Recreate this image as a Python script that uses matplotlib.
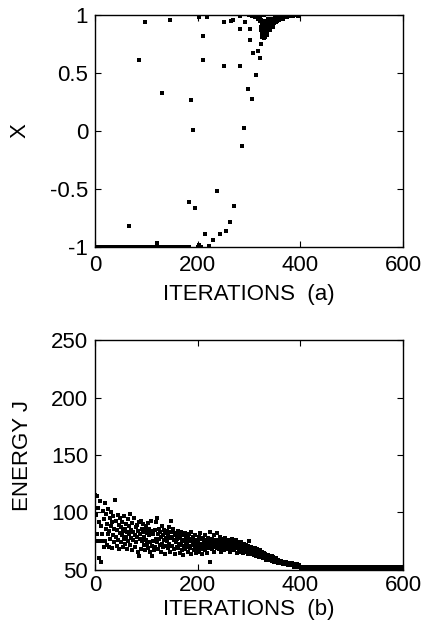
import numpy as np
from matplotlib import pyplot as plt

# ---- data ----
iter_ticks = [0, 200, 400, 600]
iter_ticklabels = ["0", "200", "400", "600"]
x_ticks = [-1, -0.5, 0, 0.5, 1]
x_ticklabels = ["-1", "-0.5", "0", "0.5", "1"]
energy_ticks = [50, 100, 150, 200, 250]
energy_ticklabels = ["50", "100", "150", "200", "250"]

# (a) iterations where X sits on the lower bound -1
x_floor_iters = [0, 3, 6, 9, 12, 15, 18, 21, 24, 27, 30, 33, 36, 39, 42, 45,
                 48, 51, 54, 57, 60, 63, 70, 73, 76, 79, 82, 90, 93, 101, 104,
                 107, 110, 113, 116, 124, 127, 134, 137, 140, 143, 150, 153,
                 156, 159, 162, 165, 168, 171, 174, 177, 180, 183, 201, 206]
x_floor_val = -1.0

# (a) scattered samples of X
x_iters = [67, 86, 97, 120, 131, 147, 184, 188, 191, 195, 202, 203, 211, 211,
           214, 219, 223, 230, 237, 244, 252, 252, 256, 263, 265, 269, 271,
           282, 282, 282, 287, 291, 292, 298, 302, 302, 306, 308, 309, 313,
           317, 321, 324, 396]
x_vals = [-0.82, 0.613, 0.944, -0.963, 0.33, 0.96, -0.615, 0.268, 0.013,
          -0.664, -0.98, 0.98, 0.816, 0.613, -0.885, 0.98, -0.99, -0.943,
          -0.52, -0.885, 0.944, 0.564, -0.865, -0.788, 0.95, 0.96, -0.647,
          0.99, 0.88, 0.564, -0.128, 0.03, 0.944, 0.36, 0.88, 0.785, 0.28,
          0.673, 0.99, 0.486, 0.693, 0.63, 0.753, 0.99]

# (a) dense cluster converging on X = 1
cluster_iters = [300, 303, 305, 308, 310, 312, 313, 315, 316, 318, 318, 320,
                 322, 322, 323, 324, 324, 325, 325, 326, 326, 327, 327, 328,
                 328, 329, 329, 330, 330, 330, 331, 331, 332, 332, 333, 333,
                 334, 334, 335, 335, 336, 336, 337, 337, 338, 339, 340, 340,
                 341, 342, 343, 344, 345, 346, 347, 348, 349, 350, 350, 352,
                 354, 356, 358, 360, 362, 364, 366, 370, 370, 374, 378, 380,
                 386, 390]
cluster_vals = [1.0, 1.0, 0.99, 0.995, 1.0, 0.98, 1.0, 0.995, 0.99, 1.0, 0.97,
                0.99, 0.98, 0.95, 0.9, 0.96, 0.87, 0.93, 0.83, 0.86, 0.81,
                0.9, 0.95, 0.84, 0.92, 0.8, 0.89, 0.82, 1.0, 0.86, 0.85, 0.81,
                0.83, 0.92, 0.87, 0.83, 0.9, 0.95, 0.86, 0.83, 0.88, 0.94,
                0.91, 0.97, 0.88, 0.89, 0.93, 0.96, 0.87, 0.9, 0.91, 0.95,
                0.97, 0.9, 0.92, 0.955, 0.93, 0.98, 1.0, 0.94, 0.95, 0.99,
                0.96, 1.0, 0.995, 0.97, 0.97, 0.98, 1.0, 0.985, 0.99, 1.0,
                0.995, 1.0]

# (b) energy J, one value per iteration
energy = [
    115, 75, 98, 114, 81, 75, 104, 60, 92, 75, 110, 57, 88, 75, 81, 101, 75, 94, 70, 108,
    75, 86, 99, 72, 90, 81, 103, 70, 84, 95, 77, 100, 88, 69, 92, 80, 97, 74, 86, 111,
    79, 93, 71, 85, 98, 76, 89, 68, 82, 95, 74, 87, 80, 92, 70, 84, 97, 77, 86, 73,
    90, 79, 83, 68, 94, 75, 88, 81, 99, 72, 85, 78, 91, 67, 83, 76, 95, 80, 70, 87,
    74, 89, 79, 66, 84, 92, 62, 81, 77, 93, 68, 86, 75, 83, 90, 72, 79, 85, 67, 88,
    76, 82, 73, 91, 69, 80, 86, 74, 66, 84, 93, 71, 62, 75, 81, 67, 85, 70, 77, 92,
    95, 74, 81, 68, 86, 77, 72, 83, 66, 79, 88, 73, 80, 70, 85, 76, 64, 82, 78, 71,
    84, 75, 69, 81, 87, 73, 78, 66, 83, 93, 71, 79, 86, 68, 76, 82, 64, 74, 80, 70,
    77, 84, 69, 73, 81, 65, 78, 72, 83, 67, 75, 80, 63, 76, 71, 82, 68, 74, 79, 70,
    73, 78, 66, 81, 71, 75, 69, 83, 64, 77, 72, 79, 67, 74, 70, 80, 65, 76, 73, 68,
    75, 71, 79, 66, 73, 82, 69, 77, 64, 72, 78, 68, 74, 70, 80, 67, 73, 76, 65, 71,
    78, 69, 74, 72, 83, 57, 70, 77, 68, 75, 73, 80, 66, 72, 76, 70, 74, 69, 82, 71,
    73, 68, 76, 71, 79, 66, 74, 70, 77, 72, 69, 75, 67, 73, 78, 71, 70, 74, 68, 72,
    76, 69, 73, 71, 66, 74, 70, 77, 68, 72, 75, 67, 71, 73, 69, 76, 65, 72, 70, 74,
    68, 71, 73, 66, 70, 74, 67, 72, 69, 65, 71, 73, 68, 70, 66, 72, 69, 67, 71, 64,
    75, 68, 66, 70, 64, 69, 67, 65, 68, 63, 66, 69, 64, 67, 62, 65, 68, 63, 66, 61,
    65, 63, 67, 61, 64, 62, 66, 60, 63, 65, 61, 62, 64, 59, 63, 61, 62, 60, 63, 59,
    61, 62, 59, 60, 62, 58, 60, 61, 59, 57, 60, 58, 59, 60, 57, 58, 59, 56, 58, 57,
    58, 56, 57, 58, 56, 57, 55, 57, 56, 57, 55, 56, 57, 55, 56, 55, 56, 54, 55, 56,
    55, 54, 55, 56, 54, 55, 54, 53, 55, 54, 54, 53, 54, 55, 53, 54, 53, 54, 53, 53,
    53, 52, 53, 53, 52, 53, 51.5, 53, 53, 52, 51.5, 53, 53, 51.5, 53, 52, 53, 51.5, 53, 53,
    51.5, 53, 52, 53, 51.5, 53, 52, 51.5, 53, 52, 51.5, 52, 53, 51.5, 52, 52, 51.5, 52, 52, 51.5,
    52.5, 51.2, 52.5, 52.5, 51.2, 52.5, 51.2, 51.2, 52.5, 51.2, 52.5, 52.5, 51.2, 52.5, 51.2, 52.5, 51.2, 51.2, 52.5, 52.5,
    51.2, 52.5, 51.2, 52.5, 52.5, 51.2, 51.2, 52.5, 51.2, 52.5, 52.5, 51.2, 52.5, 51.2, 51.2, 52.5, 52.5, 51.2, 52.5, 51.2,
    52.5, 51.2, 52.5, 51.2, 51.2, 52.5, 52.5, 51.2, 52.5, 51.2, 52.5, 51.2, 51.2, 52.5, 52.5, 51.2, 52.5, 51.2, 52.5, 52.5,
    51.2, 52.5, 52.5, 51.2, 52.5, 51.2, 51.2, 52.5, 52.5, 51.2, 52.5, 51.2, 52.5, 52.5, 51.2, 51.2, 52.5, 51.2, 52.5, 51.2,
    52.5, 51.2, 51.2, 52.5, 52.5, 51.2, 52.5, 51.2, 52.5, 51.2, 51.2, 52.5, 52.5, 51.2, 52.5, 52.5, 51.2, 52.5, 51.2, 51.2,
    51.2, 52.5, 52.5, 51.2, 51.2, 52.5, 51.2, 52.5, 52.5, 51.2, 52.5, 51.2, 51.2, 52.5, 51.2, 52.5, 52.5, 51.2, 52.5, 51.2,
    52.5, 52.5, 51.2, 52.5, 51.2, 51.2, 52.5, 52.5, 51.2, 52.5, 51.2, 52.5, 51.2, 52.5, 52.5, 51.2, 51.2, 52.5, 51.2, 52.5,
    51.2, 52.5, 51.2, 52.5, 52.5, 51.2, 52.5, 51.2, 51.2, 52.5, 52.5, 51.2, 52.5, 51.2, 52.5, 51.2, 52.5, 52.5, 51.2, 52.5,
]
energy_iters = np.arange(len(energy))

# ---- figure ----
plt.rcParams["font.family"] = ["Liberation Sans", "DejaVu Sans"]
plt.rcParams["font.size"] = 16
plt.rcParams["xtick.direction"] = "in"
plt.rcParams["ytick.direction"] = "in"
plt.rcParams["xtick.top"] = True
plt.rcParams["ytick.right"] = True

fig = plt.figure(figsize=(4.24, 6.37), dpi=100)
ax1 = fig.add_axes([0.224, 0.6122, 0.7264, 0.3642])
ax2 = fig.add_axes([0.224, 0.1052, 0.7264, 0.361])

dot = dict(marker="s", ms=2.6, mew=0, color="k", linestyle="none")

ax1.plot(x_floor_iters, [x_floor_val] * len(x_floor_iters), **dot)
ax1.plot(x_iters, x_vals, **dot)
ax1.plot(cluster_iters, cluster_vals, **dot)
ax1.set_xlim(0, 600)
ax1.set_ylim(-1, 1)
ax1.set_xticks(iter_ticks, iter_ticklabels)
ax1.set_yticks(x_ticks, x_ticklabels)
ax1.set_ylabel("X")
ax1.set_xlabel("ITERATIONS  (a)")
ax1.yaxis.set_label_coords(-0.209, 0.5)
ax1.xaxis.set_label_coords(0.5, -0.16)

ax2.plot(energy_iters, energy, **dot)
ax2.set_xlim(0, 600)
ax2.set_ylim(50, 250)
ax2.set_xticks(iter_ticks, iter_ticklabels)
ax2.set_yticks(energy_ticks, energy_ticklabels)
ax2.set_ylabel("ENERGY J")
ax2.set_xlabel("ITERATIONS  (b)")
ax2.yaxis.set_label_coords(-0.202, 0.5)
ax2.xaxis.set_label_coords(0.5, -0.125)

for ax in (ax1, ax2):
    ax.tick_params(length=4, width=0.8, pad=5)
    for s in ax.spines.values():
        s.set_linewidth(1.0)
ax1.tick_params(axis="x", pad=6)
ax2.tick_params(axis="x", pad=3.5)

fig.savefig("out.png", dpi=100)
